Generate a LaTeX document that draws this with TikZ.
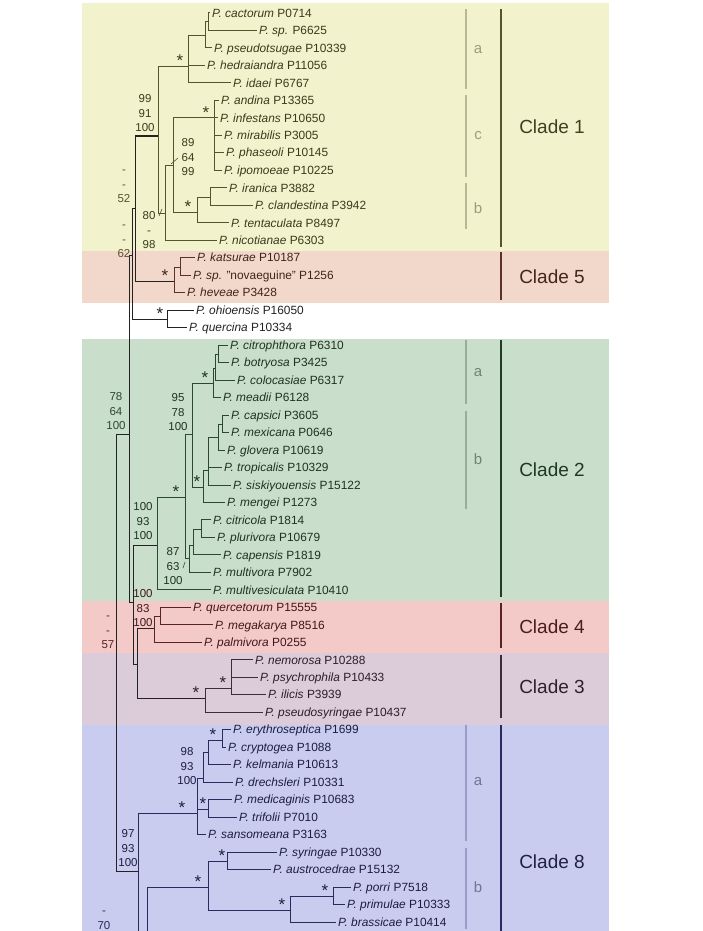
\documentclass[tikz,border=0pt]{standalone}
\usepackage{fontspec}
\setmainfont{Liberation Sans}
\usepackage{xcolor}
\usepackage{tikz}

\definecolor{bgone}{HTML}{F2F2CD}
\definecolor{bgfive}{HTML}{F2D8CA}
\definecolor{bgtwo}{HTML}{CADFCB}
\definecolor{bgfour}{HTML}{F4CAC8}
\definecolor{bgthree}{HTML}{DCCCDA}
\definecolor{bgeight}{HTML}{C9CBEF}
\definecolor{lnone}{HTML}{55552A}
\definecolor{lnfive}{HTML}{5C3322}
\definecolor{lntwo}{HTML}{2A4A2E}
\definecolor{lnfour}{HTML}{5A2222}
\definecolor{lnthree}{HTML}{3E2A40}
\definecolor{lneight}{HTML}{2A2A5E}
\definecolor{lnroot}{HTML}{222222}
\definecolor{subone}{HTML}{B8B896}
\definecolor{subtwo}{HTML}{98AE9B}
\definecolor{subeight}{HTML}{9A9CC8}

\begin{document}
\begin{tikzpicture}[x=1pt, y=-1pt,
  leaf/.style={anchor=west, inner sep=2pt, font=\leaffont, text height=8.4pt, text depth=0pt},
  supp/.style={align=center, inner sep=0pt, font=\suppfont},
  star/.style={anchor=base, inner sep=0pt, font=\starfont},
  branch/.style={line width=1pt},
  cladebar/.style={line width=1.7pt},
  subbar/.style={line width=1.4pt},
  cladelabel/.style={font=\cladefont},
  sublabel/.style={font=\subfont}]
\def\leaffont{\fontsize{11.9}{13}\selectfont}
\def\suppfont{\fontsize{11.5}{14.5}\selectfont}
\def\starfont{\fontsize{17}{17}\selectfont}
\def\cladefont{\fontsize{19}{22}\selectfont}
\def\subfont{\fontsize{15}{18}\selectfont}
\def\bstack#1#2#3{\rule{0pt}{8.2pt}#1\\#2\\#3}
\def\barx{501}
\def\subx{466}
\def\labx{552}
\def\sublabx{478}

\useasboundingbox (0,0) rectangle (702,931);

% BACKGROUND BANDS
\fill[bgone] (82,3) rectangle (609,251);
\fill[bgfive] (82,251) rectangle (609,303);
\fill[bgtwo] (82,339) rectangle (609,601);
\fill[bgfour] (82,601) rectangle (609,653);
\fill[bgthree] (82,653) rectangle (609,725);
\fill[bgeight] (82,725) rectangle (609,931);

\begin{scope}[draw=lnone, text=lnone!70!black] % CLADE 1
\node[leaf] (cactorum) at (210,13.0) {\textit{P. cactorum} P0714};
\node[leaf] (psp) at (257,30.5) {\textit{P. sp.} P6625};
\node[leaf] (pseudotsugae) at (212,48.0) {\textit{P. pseudotsugae} P10339};
\node[leaf] (hedraiandra) at (205,65.4) {\textit{P. hedraiandra} P11056};
\node[leaf] (idaei) at (231,82.9) {\textit{P. idaei} P6767};
\node[leaf] (andina) at (219,100.4) {\textit{P. andina} P13365};
\node[leaf] (infestans) at (218,117.9) {\textit{P. infestans} P10650};
\node[leaf] (mirabilis) at (222,135.4) {\textit{P. mirabilis} P3005};
\node[leaf] (phaseoli) at (224,152.8) {\textit{P. phaseoli} P10145};
\node[leaf] (ipomoeae) at (222,170.3) {\textit{P. ipomoeae} P10225};
\node[leaf] (iranica) at (227,187.8) {\textit{P. iranica} P3882};
\node[leaf] (clandestina) at (253,205.3) {\textit{P. clandestina} P3942};
\node[leaf] (tentaculata) at (229,222.8) {\textit{P. tentaculata} P8497};
\node[leaf] (nicotianae) at (217,240.2) {\textit{P. nicotianae} P6303};

\coordinate (a1) at (208,22);
\coordinate (a2) at (205,36);
\coordinate (a3) at (188,67);
\coordinate (c1) at (214,118);
\coordinate (b1) at (210,197);
\coordinate (b2) at (197,212);
\coordinate (cb) at (173,165);
\coordinate (cbn) at (165,213);
\coordinate (cl1) at (158,136);

\draw[branch] (a1) |- (cactorum);
\draw[branch] (a1) |- (psp);
\draw[branch] (a2) |- (a1);
\draw[branch] (a2) |- (pseudotsugae);
\draw[branch] (a3) |- (a2);
\draw[branch] (a3) |- (hedraiandra);
\draw[branch] (a3) |- (idaei);
\draw[branch] (c1) |- (andina);
\draw[branch] (c1) |- (infestans);
\draw[branch] (c1) |- (mirabilis);
\draw[branch] (c1) |- (phaseoli);
\draw[branch] (c1) |- (ipomoeae);
\draw[branch] (b1) |- (iranica);
\draw[branch] (b1) |- (clandestina);
\draw[branch] (b2) |- (b1);
\draw[branch] (b2) |- (tentaculata);
\draw[branch] (cb) |- (c1);
\draw[branch] (cb) |- (b2);
\draw[branch] (cbn) |- (cb);
\draw[branch] (cbn) |- (nicotianae);
\draw[branch] (cl1) |- (a3);
\draw[branch] (cl1) |- (cbn);

\node[star] (st-a3) at (180,67) {*};
\node[star] (st-c1) at (206,118) {*};
\node[star] (st-b2) at (188,212) {*};
\node[supp] (s-cl1) at (145,113) {\bstack{99}{91}{100}};
\node[supp] (s-cb) at (188,157) {\bstack{89}{64}{99}};
\node[supp] (s-cbn) at (149,230) {\bstack{80}{-}{98}};
\draw[branch, line width=0.6pt] (171,164) -- (178,158);
\draw[branch, line width=0.6pt] (159,216) -- (162,209);
\end{scope}

\begin{scope}[draw=lnfive, text=lnfive!70!black] % CLADE 5
\node[leaf] (katsurae) at (195,257.7) {\textit{P. katsurae} P10187};
\node[leaf] (novaeguine) at (191,275.2) {\textit{P. sp.} "novaeguine" P1256};
\node[leaf] (heveae) at (185,292.7) {\textit{P. heveae} P3428};

\coordinate (k1) at (180,267);
\coordinate (cl5) at (174,281);

\draw[branch] (k1) |- (katsurae);
\draw[branch] (k1) |- (novaeguine);
\draw[branch] (cl5) |- (k1);
\draw[branch] (cl5) |- (heveae);

\node[star] (st-cl5) at (165,281) {*};
\end{scope}

\begin{scope}[draw=lntwo, text=lntwo!70!black] % CLADE 2
\node[leaf] (citrophthora) at (228,345.1) {\textit{P. citrophthora} P6310};
\node[leaf] (botryosa) at (229,362.6) {\textit{P. botryosa} P3425};
\node[leaf] (colocasiae) at (235,380.1) {\textit{P. colocasiae} P6317};
\node[leaf] (meadii) at (221,397.6) {\textit{P. meadii} P6128};
\node[leaf] (capsici) at (229,415.0) {\textit{P. capsici} P3605};
\node[leaf] (mexicana) at (229,432.5) {\textit{P. mexicana} P0646};
\node[leaf] (glovera) at (225,450.0) {\textit{P. glovera} P10619};
\node[leaf] (tropicalis) at (222,467.5) {\textit{P. tropicalis} P10329};
\node[leaf] (siskiyouensis) at (231,485.0) {\textit{P. siskiyouensis} P15122};
\node[leaf] (mengei) at (225,502.4) {\textit{P. mengei} P1273};
\node[leaf] (citricola) at (211,519.9) {\textit{P. citricola} P1814};
\node[leaf] (plurivora) at (215,537.4) {\textit{P. plurivora} P10679};
\node[leaf] (capensis) at (221,554.9) {\textit{P. capensis} P1819};
\node[leaf] (multivora) at (211,572.4) {\textit{P. multivora} P7902};
\node[leaf] (multivesiculata) at (211,589.8) {\textit{P. multivesiculata} P10410};

\coordinate (e1) at (218,354);
\coordinate (e2) at (215,368);
\coordinate (e3) at (213,383);
\coordinate (f1) at (222,424);
\coordinate (f2) at (218,437);
\coordinate (f3) at (208,470);
\coordinate (f4) at (203,487);
\coordinate (ab2) at (192,434);
\coordinate (g1) at (201,529);
\coordinate (g2) at (193,545);
\coordinate (g3) at (189,558);
\coordinate (g4) at (185,497);
\coordinate (cl2) at (157,545);

\draw[branch] (e1) |- (citrophthora);
\draw[branch] (e1) |- (botryosa);
\draw[branch] (e2) |- (e1);
\draw[branch] (e2) |- (colocasiae);
\draw[branch] (e3) |- (e2);
\draw[branch] (e3) |- (meadii);
\draw[branch] (f1) |- (capsici);
\draw[branch] (f1) |- (mexicana);
\draw[branch] (f2) |- (f1);
\draw[branch] (f2) |- (glovera);
\draw[branch] (f3) |- (f2);
\draw[branch] (f3) |- (tropicalis);
\draw[branch] (f3) |- (siskiyouensis);
\draw[branch] (f4) |- (f3);
\draw[branch] (f4) |- (mengei);
\draw[branch] (ab2) |- (e3);
\draw[branch] (ab2) |- (f4);
\draw[branch] (g1) |- (citricola);
\draw[branch] (g1) |- (plurivora);
\draw[branch] (g2) |- (g1);
\draw[branch] (g2) |- (capensis);
\draw[branch] (g3) |- (g2);
\draw[branch] (g3) |- (multivora);
\draw[branch] (g4) |- (ab2);
\draw[branch] (g4) |- (g3);
\draw[branch] (cl2) |- (g4);
\draw[branch] (cl2) |- (multivesiculata);

\node[star] (st-e3) at (205,383) {*};
\node[star] (st-f4) at (197,487) {*};
\node[star] (st-g4) at (176,497) {*};
\node[supp] (s-ab2) at (178,412) {\bstack{95}{78}{100}};
\node[supp] (s-cl2) at (143,521) {\bstack{100}{93}{100}};
\node[supp] (s-g3) at (173,566) {\bstack{87}{63}{100}};
\draw[branch, line width=0.6pt] (183,568) -- (185,562);
\end{scope}

\begin{scope}[draw=lnfour, text=lnfour!70!black] % CLADE 4
\node[leaf] (quercetorum) at (191,607.3) {\textit{P. quercetorum} P15555};
\node[leaf] (megakarya) at (213,624.8) {\textit{P. megakarya} P8516};
\node[leaf] (palmivora) at (202,642.3) {\textit{P. palmivora} P0255};

\coordinate (h1) at (160,616);
\coordinate (cl4) at (154,628);

\draw[branch] (h1) |- (quercetorum);
\draw[branch] (h1) |- (megakarya);
\draw[branch] (cl4) |- (h1);
\draw[branch] (cl4) |- (palmivora);

\node[supp] (s-cl4) at (143,608) {\bstack{100}{83}{100}};
\end{scope}

\begin{scope}[draw=lnthree, text=lnthree!70!black] % CLADE 3
\node[leaf] (nemorosa) at (253,659.8) {\textit{P. nemorosa} P10288};
\node[leaf] (psychrophila) at (258,677.2) {\textit{P. psychrophila} P10433};
\node[leaf] (ilicis) at (266,694.7) {\textit{P. ilicis} P3939};
\node[leaf] (pseudosyringae) at (263,712.2) {\textit{P. pseudosyringae} P10437};

\coordinate (i1) at (231,688);
\coordinate (cl3) at (205,698);

\draw[branch] (i1) |- (nemorosa);
\draw[branch] (i1) |- (psychrophila);
\draw[branch] (i1) |- (ilicis);
\draw[branch] (cl3) |- (i1);
\draw[branch] (cl3) |- (pseudosyringae);

\node[star] (st-i1) at (223,688) {*};
\node[star] (st-cl3) at (196,698) {*};
\end{scope}

\begin{scope}[draw=lneight, text=lneight!70!black] % CLADE 8
\node[leaf] (erythroseptica) at (231,729.7) {\textit{P. erythroseptica} P1699};
\node[leaf] (cryptogea) at (226,747.2) {\textit{P. cryptogea} P1088};
\node[leaf] (kelmania) at (231,764.6) {\textit{P. kelmania} P10613};
\node[leaf] (drechsleri) at (233,782.1) {\textit{P. drechsleri} P10331};
\node[leaf] (medicaginis) at (232,799.6) {\textit{P. medicaginis} P10683};
\node[leaf] (trifolii) at (237,817.1) {\textit{P. trifolii} P7010};
\node[leaf] (sansomeana) at (206,834.6) {\textit{P. sansomeana} P3163};
\node[leaf] (syringae) at (277,852.0) {\textit{P. syringae} P10330};
\node[leaf] (austrocedrae) at (271,869.5) {\textit{P. austrocedrae} P15132};
\node[leaf] (porri) at (351,887.0) {\textit{P. porri} P7518};
\node[leaf] (primulae) at (345,904.5) {\textit{P. primulae} P10333};
\node[leaf] (brassicae) at (336,922.0) {\textit{P. brassicae} P10414};

\coordinate (j1) at (222,740);
\coordinate (j2) at (208,752);
\coordinate (j3) at (203,778);
\coordinate (j4) at (208,809);
\coordinate (cl8a) at (197,813);
\coordinate (k8a) at (227,861);
\coordinate (k8b) at (333,896);
\coordinate (k8c) at (290,910);
\coordinate (cl8b) at (208,887);
\coordinate (x8b) at (147,931);
\coordinate (cl8) at (138,871);
\coordinate (cl8end) at (138,931);

\draw[branch] (j1) |- (erythroseptica);
\draw[branch] (j1) |- (cryptogea);
\draw[branch] (j2) |- (j1);
\draw[branch] (j2) |- (kelmania);
\draw[branch] (j3) |- (j2);
\draw[branch] (j3) |- (drechsleri);
\draw[branch] (j4) |- (medicaginis);
\draw[branch] (j4) |- (trifolii);
\draw[branch] (cl8a) |- (j3);
\draw[branch] (cl8a) |- (j4);
\draw[branch] (cl8a) |- (sansomeana);
\draw[branch] (k8a) |- (syringae);
\draw[branch] (k8a) |- (austrocedrae);
\draw[branch] (k8b) |- (porri);
\draw[branch] (k8b) |- (primulae);
\draw[branch] (k8c) |- (k8b);
\draw[branch] (k8c) |- (brassicae);
\draw[branch] (cl8b) |- (k8a);
\draw[branch] (cl8b) |- (k8c);
\draw[branch] (x8b) |- (cl8b);
\draw[branch] (cl8) |- (cl8a);
\draw[branch] (cl8) -- (cl8end);

\node[star] (st-j1) at (213,740) {*};
\node[star] (st-j4) at (203,809) {*};
\node[star] (st-cl8a) at (182,813) {*};
\node[star] (st-k8a) at (222,861) {*};
\node[star] (st-cl8b) at (198,887) {*};
\node[star] (st-k8c) at (282,910) {*};
\node[star] (st-k8b) at (325,896) {*};
\node[supp] (s-j3) at (187,766) {\bstack{98}{93}{100}};
\node[supp] (s-cl8) at (128,848) {\bstack{97}{93}{100}};
\end{scope}

\begin{scope}[draw=lnroot, text=lnroot] % BACKBONE
\node[leaf] (ohioensis) at (194,310.2) {\textit{P. ohioensis} P16050};
\node[leaf] (quercina) at (187,327.6) {\textit{P. quercina} P10334};

\coordinate (r15) at (135,208);
\coordinate (oq) at (167,319);
\coordinate (r15o) at (132,255);
\coordinate (r43) at (137,664);
\coordinate (r243) at (133,602);
\coordinate (rA) at (129,434);
\coordinate (rB) at (116,648);

\draw[branch] (r15) |- (cl1);
\draw[branch] (r15) |- (cl5);
\draw[branch] (oq) |- (ohioensis);
\draw[branch] (oq) |- (quercina);
\draw[branch] (r15o) |- (r15);
\draw[branch] (r15o) |- (oq);
\draw[branch] (r43) |- (cl4);
\draw[branch] (r43) |- (cl3);
\draw[branch] (r243) |- (cl2);
\draw[branch] (r243) |- (r43);
\draw[branch] (rA) |- (r15o);
\draw[branch] (rA) |- (r243);
\draw[branch] (rB) |- (rA);
\draw[branch] (rB) |- (cl8);

\node[star] (st-oq) at (160,319) {*};
\node[supp, text=lnone] (s-r15) at (124,184) {\bstack{-}{-}{52}};
\node[supp, text=lnone] (s-r15o) at (124,239) {\bstack{-}{-}{62}};
\node[supp, text=lntwo] (s-rA) at (116,411) {\bstack{78}{64}{100}};
\node[supp, text=lnfour] (s-rB) at (108,630) {\bstack{-}{-}{57}};
\node[supp, text=lneight, align=center] (s-low) at (104,918) {\rule{0pt}{8.2pt}-\\70};
\end{scope}

% CLADE BARS AND LABELS
\draw[cladebar, lnone] (\barx,9) -- (\barx,247);
\draw[subbar, subone] (\subx,9) -- (\subx,89);
\draw[subbar, subone] (\subx,95) -- (\subx,177);
\draw[subbar, subone] (\subx,183) -- (\subx,229);
\node[sublabel, text=subone!85!black] (sub-1a) at (\sublabx,50) {a};
\node[sublabel, text=subone!85!black] (sub-1c) at (\sublabx,136) {c};
\node[sublabel, text=subone!85!black] (sub-1b) at (\sublabx,208) {b};
\node[cladelabel, text=lnone!75!black] (lab-1) at (\labx,127) {Clade 1};

\draw[cladebar, lnfive] (\barx,252) -- (\barx,300);
\node[cladelabel, text=lnfive!75!black] (lab-5) at (\labx,277) {Clade 5};

\draw[cladebar, lntwo!80!black] (\barx,340) -- (\barx,597);
\draw[subbar, subtwo] (\subx,340) -- (\subx,404);
\draw[subbar, subtwo] (\subx,411) -- (\subx,509);
\node[sublabel, text=subtwo!75!black] (sub-2a) at (\sublabx,373) {a};
\node[sublabel, text=subtwo!75!black] (sub-2b) at (\sublabx,459) {b};
\node[cladelabel, text=lntwo!75!black] (lab-2) at (\labx,470) {Clade 2};

\draw[cladebar, lnfour] (\barx,603) -- (\barx,648);
\node[cladelabel, text=lnfour!85!black] (lab-4) at (\labx,627) {Clade 4};

\draw[cladebar, lnthree] (\barx,655) -- (\barx,718);
\node[cladelabel, text=lnthree!75!black] (lab-3) at (\labx,687) {Clade 3};

\draw[cladebar, lneight] (\barx,725) -- (\barx,931);
\draw[subbar, subeight] (\subx,725) -- (\subx,841);
\draw[subbar, subeight] (\subx,848) -- (\subx,929);
\node[sublabel, text=subeight!75!black] (sub-8a) at (\sublabx,782) {a};
\node[sublabel, text=subeight!75!black] (sub-8b) at (\sublabx,887) {b};
\node[cladelabel, text=lneight!75!black] (lab-8) at (\labx,862) {Clade 8};
\end{tikzpicture}
\end{document}
